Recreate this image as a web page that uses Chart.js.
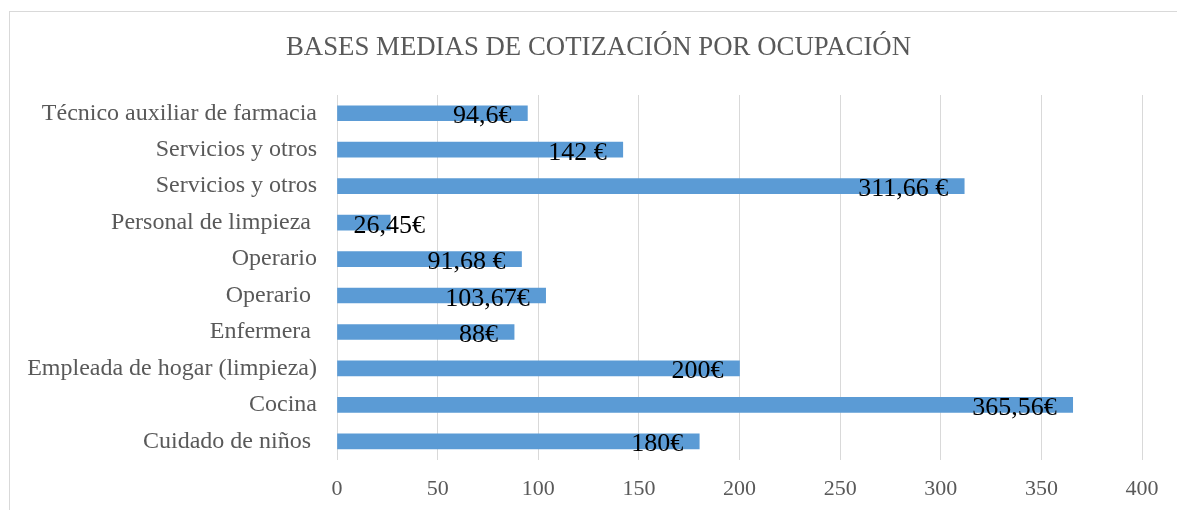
<!DOCTYPE html>
<html>
<head>
<meta charset="utf-8">
<script src="https://cdn.jsdelivr.net/npm/chart.js@4.4.0/dist/chart.umd.min.js"></script>
<style>
  html, body { margin: 0; padding: 0; background: #fff; overflow: hidden; }
  #wrap { position: relative; width: 1177px; height: 510px; overflow: hidden; }
  #frame { position: absolute; left: 9px; top: 11px; width: 1200px; height: 600px; border: 1px solid #d9d9d9; box-sizing: border-box; }
  #holder { position: absolute; left: 0; top: 0; width: 1177px; height: 510px; }
</style>
</head>
<body>
<div id="wrap">
  <div id="frame"></div>
  <div id="holder"><canvas id="basesChart" width="1177" height="510"></canvas></div>
</div>
<script>
// Occupations, top to bottom (trailing spaces kept as in the source)
const categories = [
    'Técnico auxiliar de farmacia',
    'Servicios y otros',
    'Servicios y otros',
    'Personal de limpieza ',
    'Operario',
    'Operario ',
    'Enfermera ',
    'Empleada de hogar (limpieza)',
    'Cocina',
    'Cuidado de niños '
];
const values = [94.6, 142, 311.66, 26.45, 91.68, 103.67, 88, 200, 365.56, 180];
const valueLabels = ['94,6€', '142 €', '311,66 €', '26,45€', '91,68 €', '103,67€', '88€', '200€', '365,56€', '180€'];
const xTicks = [0, 50, 100, 150, 200, 250, 300, 350, 400];
const chartTitle = 'BASES MEDIAS DE COTIZACIÓN POR OCUPACIÓN';

const serif = "'Liberation Serif', 'Times New Roman', serif";

// Title is centred on the whole chart frame (which runs past the page edge)
const frameTitle = {
    id: 'frameTitle',
    afterDraw(chart) {
        const ctx = chart.ctx;
        ctx.save();
        ctx.font = '26.8px ' + serif;
        ctx.fillStyle = '#595959';
        ctx.textAlign = 'center';
        ctx.textBaseline = 'alphabetic';
        ctx.fillText(chartTitle, 598.5, 55);
        ctx.restore();
    }
};

// Draw the value labels near the end of each bar
const barLabels = {
    id: 'barLabels',
    afterDatasetsDraw(chart) {
        const ctx = chart.ctx;
        const meta = chart.getDatasetMeta(0);
        ctx.save();
        ctx.font = '26px ' + serif;
        ctx.fillStyle = '#000000';
        ctx.textAlign = 'left';
        ctx.textBaseline = 'alphabetic';
        meta.data.forEach((bar, i) => {
            const txt = valueLabels[i];
            const w = ctx.measureText(txt).width;
            const left = Math.max(bar.x - 16 - w, bar.base + 16);
            ctx.fillText(txt, left, bar.y + 10);
        });
        ctx.restore();
    }
};

const config = {
    type: 'bar',
    data: {
        labels: categories,
        datasets: [{
            data: values,
            backgroundColor: '#5b9bd5',
            borderWidth: 0,
            barThickness: 15
        }]
    },
    options: {
        indexAxis: 'y',
        responsive: false,
        animation: false,
        layout: { padding: { left: 0, right: 35, top: 95, bottom: 8 } },
        plugins: {
            legend: { display: false },
            tooltip: { enabled: false },
            title: { display: false }
        },
        scales: {
            x: {
                min: 0,
                max: 400,
                afterBuildTicks: (scale) => { scale.ticks = xTicks.map(v => ({ value: v })); },
                afterFit: (scale) => { scale.height = 42.4; },
                grid: { color: '#d9d9d9', lineWidth: 1, drawTicks: false },
                border: { display: false },
                ticks: {
                    color: '#595959',
                    padding: 16,
                    font: { family: serif, size: 22 }
                }
            },
            y: {
                afterFit: (scale) => {
                    scale.width = 337;
                    scale.paddingTop = 0;
                    scale.paddingBottom = 0;
                },
                grid: { display: false, drawTicks: false },
                border: { display: false },
                ticks: {
                    color: '#595959',
                    padding: 20,
                    font: { family: serif, size: 24 }
                }
            }
        }
    },
    plugins: [barLabels, frameTitle]
};

const chartContext = document.getElementById('basesChart').getContext('2d');
const basesChart = new Chart(chartContext, config);
</script>
</body>
</html>
